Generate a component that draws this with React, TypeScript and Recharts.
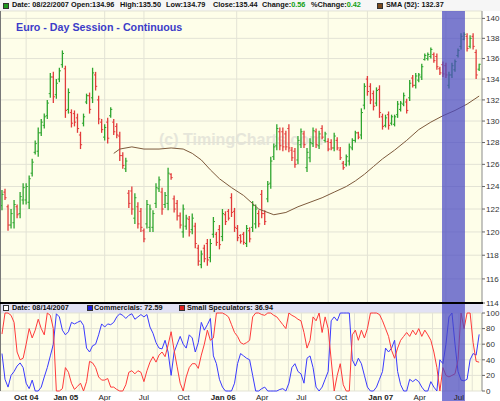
import React from 'react';
import {
  ComposedChart,
  Bar,
  Line,
  XAxis,
  YAxis,
  CartesianGrid,
  ReferenceArea
} from 'recharts';

// weekly bars, bar 0 = week of Aug 6 2004
const FIRST_WEEK = Date.UTC(2004, 7, 6);
const WEEK_MS = 7 * 24 * 3600 * 1000;

const highs = [
  123.7, 123.8, 122.4, 122.0, 122.8, 122.4, 123.5, 124.3, 124.3, 125.0,
  126.5, 128.2, 129.4, 130.2, 130.7, 132.0, 134.6, 134.7, 134.0, 135.1,
  136.8, 135.3, 133.1, 131.1, 131.0, 130.7, 129.0, 130.7, 132.6, 132.7,
  135.1, 134.7, 132.4, 130.2, 129.7, 130.3, 131.3, 130.2, 129.8, 129.0,
  127.1, 126.6, 123.7, 124.0, 123.4, 122.6, 122.1, 120.3, 122.8, 122.4,
  121.9, 124.3, 124.9, 123.9, 123.5, 125.7, 125.2, 123.2, 122.8, 121.7,
  122.4, 121.5, 121.4, 121.6, 120.8, 118.9, 118.4, 118.9, 119.4, 119.4,
  121.3, 120.0, 120.6, 122.0, 121.8, 122.0, 123.4, 122.1, 120.6, 119.8,
  120.0, 120.6, 120.4, 122.7, 122.4, 121.9, 123.7, 121.9, 124.5, 126.7,
  127.9, 129.7, 129.4, 129.4, 129.1, 129.7, 127.6, 127.5, 128.6, 129.3,
  129.1, 127.5, 128.4, 129.4, 129.3, 129.1, 129.6, 129.0, 128.4, 128.3,
  128.9, 128.5, 127.6, 126.3, 126.9, 127.9, 128.4, 129.1, 129.0, 131.2,
  133.6, 134.3, 133.6, 132.9, 133.2, 133.4, 130.7, 130.6, 130.9, 130.6,
  130.6, 131.9, 131.9, 132.7, 132.1, 133.9, 134.4, 134.6, 134.6, 135.5,
  136.5, 136.6, 137.1, 136.6, 136.5, 135.2, 135.7, 135.6, 134.7, 135.6,
  135.9, 137.0, 138.5, 138.6, 138.5, 138.3, 138.5, 136.9, 135.5
];

const lows = [
  121.9, 122.8, 120.1, 120.3, 120.3, 121.2, 121.2, 122.4, 122.4, 122.0,
  124.9, 126.9, 126.7, 128.6, 129.3, 130.2, 132.2, 131.7, 132.1, 133.7,
  135.1, 130.3, 130.7, 129.4, 129.5, 128.9, 127.4, 129.5, 131.6, 130.7,
  131.7, 132.9, 129.7, 128.9, 128.2, 127.9, 130.3, 128.7, 128.4, 126.3,
  125.6, 125.3, 122.1, 121.5, 120.7, 120.3, 120.0, 119.1, 120.3, 120.0,
  120.0, 122.1, 123.5, 121.5, 122.1, 121.9, 124.6, 121.7, 121.0, 120.3,
  119.5, 120.2, 119.6, 119.8, 118.6, 117.1, 116.9, 117.4, 117.1, 117.4,
  119.5, 118.8, 118.5, 119.2, 120.6, 121.0, 121.3, 120.0, 119.2, 119.0,
  118.9, 118.7, 119.1, 120.0, 120.3, 120.4, 121.2, 120.6, 122.6, 123.8,
  126.4, 127.3, 127.3, 127.2, 127.3, 127.1, 126.3, 125.7, 126.0, 127.5,
  127.5, 125.3, 126.2, 127.6, 127.5, 127.4, 128.3, 128.0, 127.2, 127.3,
  127.2, 127.3, 126.4, 125.5, 125.8, 125.9, 127.3, 128.0, 128.3, 128.3,
  131.1, 132.4, 131.6, 131.0, 131.4, 130.3, 129.2, 129.4, 129.2, 129.6,
  129.5, 130.3, 130.9, 131.4, 130.7, 131.9, 133.2, 133.1, 133.7, 133.9,
  135.8, 135.8, 136.0, 135.6, 134.9, 134.4, 134.2, 134.1, 133.1, 134.1,
  134.7, 136.1, 136.9, 137.8, 136.7, 137.0, 136.9, 134.0, 134.79
];

const opens = [
  122.3, 123.5, 122.2, 120.6, 120.8, 122.2, 121.6, 122.8, 122.8, 122.6,
  125.2, 127.1, 127.2, 128.9, 129.6, 130.5, 132.6, 134.2, 132.5, 134.0,
  135.4, 135.0, 131.1, 130.8, 130.7, 130.3, 128.7, 129.8, 131.8, 132.4,
  132.2, 134.4, 132.0, 129.9, 128.5, 129.9, 130.5, 129.9, 129.5, 128.6,
  126.8, 125.6, 123.4, 123.6, 121.2, 122.2, 121.8, 120.1, 120.7, 120.4,
  120.4, 122.5, 123.8, 123.5, 122.4, 122.5, 125.1, 122.9, 122.5, 121.4,
  120.0, 120.5, 121.1, 120.2, 120.5, 118.6, 117.2, 118.6, 119.0, 117.8,
  119.8, 119.8, 120.2, 119.6, 121.5, 121.8, 123.0, 121.8, 120.3, 119.7,
  119.8, 119.0, 120.1, 120.4, 120.7, 121.6, 123.3, 121.6, 122.9, 124.3,
  126.7, 127.7, 129.0, 129.0, 128.8, 129.3, 127.3, 127.2, 126.4, 127.8,
  128.8, 125.7, 126.6, 127.9, 129.0, 127.7, 129.3, 128.2, 128.1, 128.0,
  127.5, 128.2, 127.3, 126.1, 126.0, 126.3, 127.5, 128.2, 128.9, 128.7,
  131.5, 134.0, 133.3, 132.6, 131.7, 133.0, 130.4, 129.6, 130.6, 129.8,
  129.7, 130.6, 131.1, 131.6, 131.8, 132.2, 134.1, 133.4, 133.9, 134.2,
  135.9, 136.0, 136.2, 136.4, 136.2, 135.0, 135.4, 135.3, 133.4, 134.4,
  134.9, 136.3, 137.2, 137.9, 138.2, 137.2, 138.2, 136.6, 134.96
];

const closes = [
  123.3, 123.0, 120.6, 121.6, 122.4, 121.5, 123.1, 123.9, 124.0, 124.7,
  126.2, 127.9, 128.9, 129.9, 130.4, 131.7, 134.2, 132.3, 133.6, 134.8,
  136.5, 131.0, 132.7, 129.8, 129.9, 129.3, 127.8, 130.4, 132.4, 131.1,
  134.6, 133.3, 130.2, 129.2, 129.4, 128.4, 131.1, 129.0, 128.7, 126.8,
  125.9, 126.3, 122.5, 122.0, 123.0, 120.7, 120.4, 119.4, 122.4, 122.0,
  121.6, 123.9, 124.6, 122.0, 123.2, 125.2, 124.8, 122.0, 121.4, 120.6,
  122.0, 121.2, 120.0, 121.2, 119.0, 117.5, 118.1, 117.7, 117.6, 119.0,
  120.9, 119.1, 118.9, 121.6, 120.9, 121.2, 121.7, 120.4, 119.5, 119.2,
  119.1, 120.3, 119.4, 122.3, 122.0, 120.7, 121.6, 120.9, 124.2, 126.3,
  127.6, 129.3, 127.7, 127.6, 127.6, 127.5, 126.6, 126.0, 128.2, 129.0,
  127.8, 127.1, 128.0, 129.1, 127.8, 128.8, 128.5, 128.8, 127.4, 127.5,
  128.6, 127.5, 126.6, 125.7, 126.7, 127.6, 128.2, 128.9, 128.5, 130.8,
  133.3, 132.8, 132.0, 131.4, 132.9, 130.8, 129.5, 130.3, 129.6, 130.4,
  130.4, 131.6, 131.7, 132.4, 131.0, 133.6, 133.4, 134.3, 134.4, 135.2,
  136.3, 136.4, 136.9, 135.8, 135.2, 134.6, 134.5, 134.4, 134.4, 135.3,
  135.7, 136.8, 138.2, 138.4, 137.0, 138.0, 137.2, 134.4, 135.44
];

// SMA(52) read at these bar numbers
const smaWeeks = [
  37, 39, 43, 47, 52, 56, 60, 63, 66, 69, 72, 76, 80, 85, 90, 94, 98,
  102, 106, 110, 114, 117, 120, 123, 126, 130, 134, 138, 142, 146, 150, 154, 158
];
const smaValues = [
  127.0, 127.4, 127.6, 127.4, 127.4, 127.5, 127.4, 127.0, 126.4, 125.5, 124.7,
  123.9, 123.2, 122.0, 121.5, 121.7, 122.2, 122.6, 123.0, 123.5, 124.0, 124.5,
  125.1, 125.8, 126.5, 127.3, 128.2, 129.2, 129.9, 130.5, 131.0, 131.6, 132.37
];

const commercials = [
  48, 15, 5, 20, 25, 32, 36, 30, 10, 3,
  14, 0, 0, 5, 18, 30, 45, 60, 99, 95,
  78, 72, 76, 88, 86, 88, 90, 84, 55, 50,
  58, 60, 72, 86, 82, 86, 85, 88, 95, 99,
  97, 93, 97, 99, 92, 95, 98, 95, 98, 82,
  74, 62, 55, 54, 65, 50, 20, 50, 60, 70,
  60, 55, 72, 68, 50, 62, 88, 78, 85, 93,
  45, 35, 15, 5, 0, 0, 0, 10, 35, 48,
  45, 42, 40, 20, 0, 0, 3, 5, 0, 0,
  0, 0, 2, 3, 0, 10, 30, 35, 25, 22,
  10, 42, 45, 30, 5, 0, 5, 15, 25, 90,
  95, 90, 100, 100, 100, 100, 40, 32, 42, 35,
  20, 5, 0, 0, 5, 15, 25, 55, 50, 55,
  65, 25, 8, 0, 0, 15, 12, 15, 12, 5,
  0, 0, 12, 5, 0, 40, 35, 60, 95, 100,
  60, 25, 14, 13, 15, 40, 48, 46, 72.59
];

const smallSpecs = [
  73, 100, 100, 97, 88, 50, 40, 42, 60, 80,
  68, 78, 92, 80, 72, 100, 97, 80, 0, 0,
  3, 30, 24, 10, 2, 6, 10, 0, 12, 38,
  36, 30, 18, 14, 14, 16, 5, 5, 2, 0,
  0, 8, 24, 26, 22, 26, 24, 12, 26, 37,
  44, 37, 46, 50, 44, 59, 76, 52, 31, 10,
  0, 18, 30, 35, 35, 29, 46, 60, 78, 65,
  68, 100, 100, 100, 98, 95, 85, 75, 70, 62,
  60, 62, 65, 95, 100, 100, 98, 97, 100, 100,
  97, 95, 90, 85, 80, 100, 97, 95, 92, 90,
  75, 55, 65, 95, 90, 100, 75, 95, 80, 40,
  0, 20, 35, 8, 0, 0, 72, 78, 65, 78,
  68, 80, 100, 100, 100, 98, 90, 80, 70, 52,
  42, 55, 65, 70, 75, 70, 78, 72, 80, 70,
  78, 72, 65, 50, 30, 0, 30, 20, 18, 20,
  22, 40, 100, 80, 100, 100, 62, 38, 36.94
];

const priceTicks = [114, 116, 118, 120, 122, 124, 126, 128, 130, 132, 134, 136, 138, 140];
const cotTicks = [0, 20, 40, 60, 80, 100];

const axisLabelMonths = [
  '2004-10', '2005-01', '2005-04', '2005-07', '2005-10', '2006-01',
  '2006-04', '2006-07', '2006-10', '2007-01', '2007-04', '2007-07'
];
const axisLabels = ['Oct 04', 'Jan 05', 'Apr', 'Jul', 'Oct', 'Jan 06', 'Apr', 'Jul', 'Oct', 'Jan 07', 'Apr', 'Jul'];

// header read-out: [label, value, left]
const headerFields: [string, string, number][] = [
  ['Date: ', '08/22/2007', 12],
  ['Open:', '134.96', 71],
  ['High:', '135.50', 120],
  ['Low:', '134.79', 166],
  ['Close:', '135.44', 213],
  ['Change:', '0.56', 262],
  ['%Change:', '0.42', 311]
];

// shaded period, in bar numbers
const HIGHLIGHT_FROM = 145.7;
const HIGHLIGHT_TO = 153.3;

const X_DOMAIN: [number, number] = [-0.66, 158.94];
const PRICE_DOMAIN: [number, number] = [114, 140.75];

const GREEN = '#2ea52e';
const RED = '#e23b3b';
const FONT = '"Liberation Sans", Arial, sans-serif';

const monthTicks: { w: number; label: string; bold: boolean }[] = [];
for (let y = 2004; y <= 2007; y++) {
  for (let m = 0; m < 12; m++) {
    const w = (Date.UTC(y, m, 1) - FIRST_WEEK) / WEEK_MS;
    if (w < X_DOMAIN[0] || w > X_DOMAIN[1]) continue;
    const k = axisLabelMonths.indexOf(`${y}-${String(m + 1).padStart(2, '0')}`);
    const label = k >= 0 ? axisLabels[k] : '';
    monthTicks.push({ w, label, bold: label.includes(' ') });
  }
}
const monthTickValues = monthTicks.map((t) => t.w);

const rows = highs.map((h, i) => {
  const s = smaWeeks.indexOf(i);
  return {
    i,
    range: [lows[i], h],
    open: opens[i],
    high: h,
    low: lows[i],
    close: closes[i],
    sma: s >= 0 ? smaValues[s] : null,
    comm: commercials[i],
    spec: smallSpecs[i]
  };
});

function OhlcShape(props: any) {
  const { x, y, width, height, payload } = props;
  if (!payload || x == null || y == null) return null;
  const cx = x + width / 2;
  const top = Math.min(y, y + height);
  const h = Math.abs(height);
  const lnH = Math.log(payload.high);
  const lnL = Math.log(payload.low);
  const at = (v: number) => top + ((lnH - Math.log(v)) / (lnH - lnL || 1)) * h;
  const color = payload.close >= payload.open ? GREEN : RED;
  const yo = at(payload.open);
  const yc = at(payload.close);
  return (
    <g>
      <line x1={cx} x2={cx} y1={top} y2={top + h} stroke={color} strokeWidth={1.3} />
      <line x1={cx - 1.6} x2={cx} y1={yo} y2={yo} stroke={color} strokeWidth={1} />
      <line x1={cx} x2={cx + 1.6} y1={yc} y2={yc} stroke={color} strokeWidth={1} />
    </g>
  );
}

function MonthTick(props: any) {
  const { x, y, payload } = props;
  const t = monthTicks.find((m) => Math.abs(m.w - payload.value) < 1e-6);
  if (!t || !t.label) return null;
  return (
    <text
      x={x}
      y={y + 9}
      textAnchor="middle"
      fontSize={8}
      fontFamily={FONT}
      fontWeight={t.bold ? 'bold' : 'normal'}
      fill="#222"
    >
      {t.label}
    </text>
  );
}

const abs = (style: React.CSSProperties): React.CSSProperties => ({ position: 'absolute', ...style });
const hdrText: React.CSSProperties = {
  position: 'absolute',
  fontSize: 7.3,
  fontWeight: 'bold',
  fontFamily: FONT,
  color: '#111',
  whiteSpace: 'nowrap',
  lineHeight: '10px',
  zIndex: 5
};

export default function App() {
  return (
    <div style={abs({ left: 0, top: 0, width: 500, height: 401, background: '#fff', overflow: 'hidden' })}>
      {/* backgrounds */}
      <div style={abs({ left: 0, top: 0, width: 500, height: 11, background: '#f6f6f6' })} />
      <div style={abs({ left: 0, top: 11, width: 482, height: 292, background: '#fefee9' })} />
      <div style={abs({ left: 0, top: 313, width: 482, height: 78, background: '#fefee9' })} />
      <div style={abs({ left: 0, top: 303, width: 483, height: 10, background: '#e2e2f4' })} />
      <div
        style={abs({
          left: 159,
          top: 131,
          fontSize: 16,
          fontWeight: 'bold',
          fontFamily: FONT,
          color: '#e6e6da',
          whiteSpace: 'nowrap'
        })}
      >
        (c) TimingCharts.com
      </div>

      {/* price panel */}
      <div style={abs({ left: 0, top: 0, zIndex: 2 })}>
        <ComposedChart width={500} height={310} data={rows} margin={{ top: 11, right: 0, bottom: 7, left: 0 }}>
          <CartesianGrid stroke="#e3e3d5" />
          <XAxis type="number" dataKey="i" domain={X_DOMAIN} allowDataOverflow ticks={monthTickValues} hide />
          <YAxis
            orientation="right"
            scale="log"
            domain={PRICE_DOMAIN}
            allowDataOverflow
            ticks={priceTicks}
            interval={0}
            width={18}
            tickSize={3}
            tickMargin={1}
            tick={{ fontSize: 8, fill: '#333', fontFamily: FONT }}
            axisLine={{ stroke: '#999' }}
            tickLine={{ stroke: '#666' }}
          />
          <Bar dataKey="range" barSize={3} shape={(p: any) => <OhlcShape {...p} />} isAnimationActive={false} />
          <Line
            dataKey="sma"
            stroke="#7d5a3c"
            strokeWidth={1}
            dot={false}
            connectNulls
            isAnimationActive={false}
          />
          <ReferenceArea
            x1={HIGHLIGHT_FROM}
            x2={HIGHLIGHT_TO}
            fill="#4848c4"
            fillOpacity={0.72}
            stroke="none"
            ifOverflow="visible"
            zIndex={1500}
          />
        </ComposedChart>
      </div>

      {/* COT panel */}
      <div style={abs({ left: 0, top: 303, zIndex: 2 })}>
        <ComposedChart width={500} height={98} data={rows} margin={{ top: 10, right: 0, bottom: 0, left: 0 }}>
          <CartesianGrid stroke="#e3e3d5" />
          <XAxis
            type="number"
            dataKey="i"
            domain={X_DOMAIN}
            allowDataOverflow
            ticks={monthTickValues}
            interval={0}
            height={10}
            tickSize={0}
            tickMargin={0}
            tickLine={false}
            axisLine={false}
            tick={(p: any) => <MonthTick {...p} />}
          />
          <YAxis
            orientation="right"
            domain={[0, 100]}
            ticks={cotTicks}
            interval={0}
            width={18}
            tickSize={3}
            tickMargin={1}
            tick={{ fontSize: 8, fill: '#333', fontFamily: FONT }}
            axisLine={{ stroke: '#999' }}
            tickLine={{ stroke: '#666' }}
          />
          <Line dataKey="comm" stroke="#3a3aff" strokeWidth={1} dot={false} isAnimationActive={false} />
          <Line dataKey="spec" stroke="#ff3a3a" strokeWidth={1} dot={false} isAnimationActive={false} />
          <ReferenceArea
            x1={HIGHLIGHT_FROM}
            x2={HIGHLIGHT_TO}
            y1={-14}
            y2={113}
            fill="#4848c4"
            fillOpacity={0.72}
            stroke="none"
            ifOverflow="visible"
            zIndex={1500}
          />
        </ComposedChart>
      </div>

      {/* overlays */}
      <div style={abs({ left: 0, top: 11, width: 1, height: 380, background: '#777', zIndex: 4 })} />
      <div style={abs({ left: 0, top: 302, width: 483, height: 2, background: '#000', zIndex: 4 })} />

      <div style={abs({ left: 3, top: 3, width: 4, height: 4, background: '#1f9a1f', border: '1px solid #333', zIndex: 5 })} />
      {headerFields.map(([label, value, left], k) => (
        <div key={label} style={{ ...hdrText, left, top: 0 }}>
          {label}
          <span style={{ color: k >= 5 ? '#12a012' : '#111' }}>{value}</span>
        </div>
      ))}
      <div style={abs({ left: 377, top: 3, width: 4, height: 4, background: '#7d4a1c', border: '1px solid #333', zIndex: 5 })} />
      <div style={{ ...hdrText, left: 386, top: 0 }}>SMA (52): 132.37</div>

      <div
        style={abs({
          left: 16,
          top: 21,
          fontSize: 10.7,
          fontWeight: 'bold',
          fontFamily: FONT,
          color: '#3c3cc8',
          whiteSpace: 'nowrap',
          lineHeight: '13px',
          zIndex: 5
        })}
      >
        Euro - Day Session - Continuous
      </div>

      <div style={abs({ left: 3, top: 305, width: 4, height: 4, background: '#fff', border: '1px solid #333', zIndex: 5 })} />
      <div style={{ ...hdrText, left: 12, top: 303 }}>Date: 08/14/2007</div>
      <div style={abs({ left: 87, top: 305, width: 4, height: 4, background: '#1f1fe0', border: '1px solid #333', zIndex: 5 })} />
      <div style={{ ...hdrText, left: 94, top: 303 }}>Commercials: 72.59</div>
      <div style={abs({ left: 179, top: 305, width: 4, height: 4, background: '#e01f1f', border: '1px solid #333', zIndex: 5 })} />
      <div style={{ ...hdrText, left: 187, top: 303 }}>Small Speculators: 36.94</div>
    </div>
  );
}
